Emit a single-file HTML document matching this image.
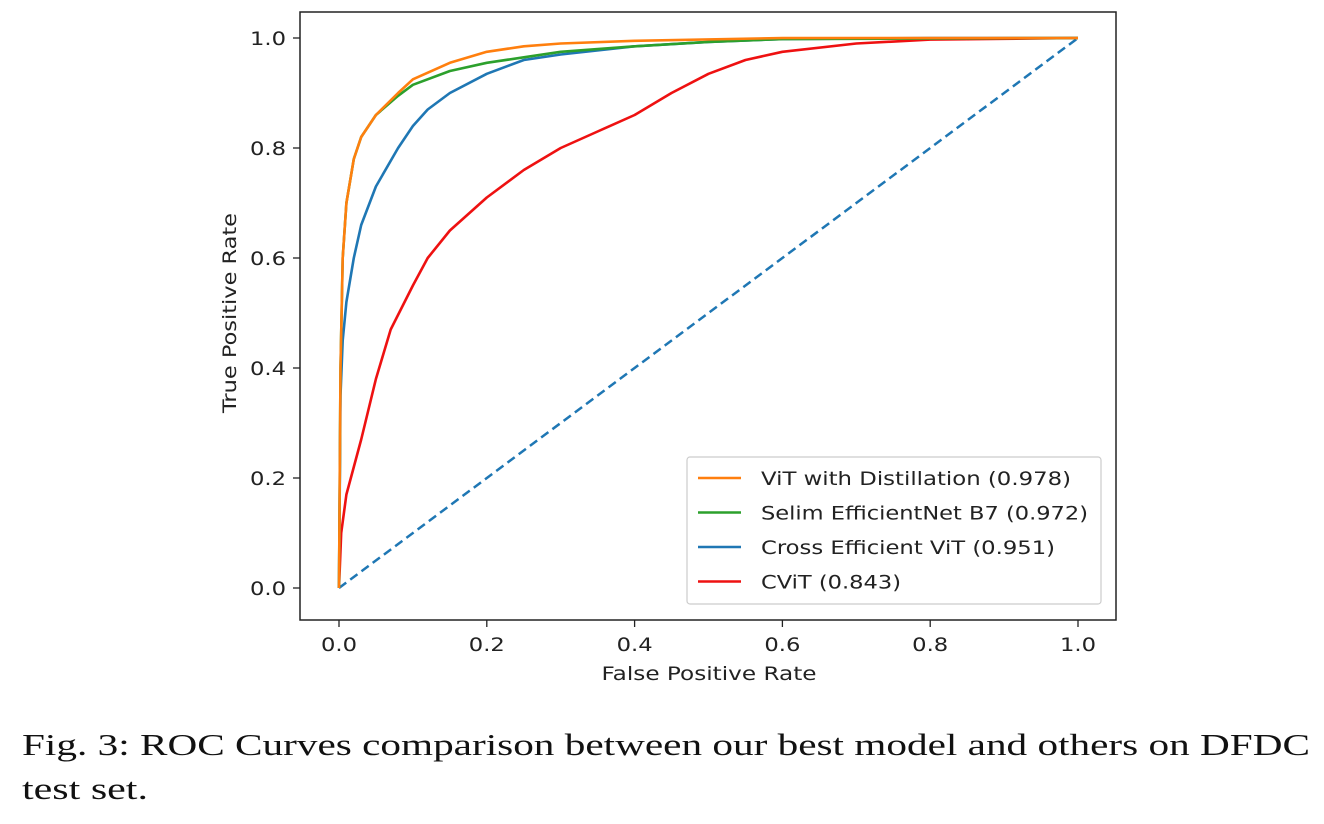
<!DOCTYPE html>
<html><head><meta charset="utf-8"><style>
body{margin:0;background:#fff;width:1324px;height:824px;overflow:hidden}
svg{position:absolute;left:0;top:0}
</style></head><body>
<svg id="chart" width="1324" height="700" font-family="DejaVu Sans, Liberation Sans, sans-serif"></svg>
<svg width="1324" height="824" style="top:0;pointer-events:none" font-family="Liberation Serif, serif">
<text x="22" y="755" font-size="31" fill="#111" textLength="1288" lengthAdjust="spacingAndGlyphs">Fig. 3: ROC Curves comparison between our best model and others on DFDC</text>
<text x="22" y="799" font-size="31" fill="#111" textLength="126" lengthAdjust="spacingAndGlyphs">test set.</text>
</svg>
<script>
const xTicks=[0,0.2,0.4,0.6,0.8,1.0];
const yTicks=[0,0.2,0.4,0.6,0.8,1.0];
const seriesNames=["ViT with Distillation (0.978)","Selim EfficientNet B7 (0.972)","Cross Efficient ViT (0.951)","CViT (0.843)"];
const seriesColors=["#ff7f0e","#2ca02c","#1f77b4","#ee1111"];
const vitFpr=[0,0.002,0.005,0.01,0.02,0.03,0.05,0.08,0.1,0.15,0.2,0.25,0.3,0.4,0.6,1];
const vitTpr=[0,0.4,0.6,0.7,0.78,0.82,0.86,0.9,0.925,0.955,0.975,0.985,0.99,0.995,1,1];
const selimFpr=[0,0.002,0.005,0.01,0.02,0.03,0.05,0.08,0.1,0.15,0.2,0.25,0.3,0.4,0.5,0.6,1];
const selimTpr=[0,0.4,0.6,0.7,0.78,0.82,0.86,0.895,0.915,0.94,0.955,0.965,0.975,0.985,0.993,0.998,1];
const crossFpr=[0,0.002,0.005,0.01,0.02,0.03,0.05,0.08,0.1,0.12,0.15,0.2,0.25,0.3,0.4,0.5,0.6,0.8,1];
const crossTpr=[0,0.35,0.45,0.52,0.6,0.66,0.73,0.8,0.84,0.87,0.9,0.935,0.96,0.97,0.985,0.993,0.998,1,1];
const cvitFpr=[0,0.003,0.01,0.02,0.03,0.05,0.07,0.1,0.12,0.15,0.2,0.25,0.3,0.35,0.4,0.45,0.5,0.55,0.6,0.7,0.8,1];
const cvitTpr=[0,0.1,0.17,0.22,0.27,0.38,0.47,0.55,0.6,0.65,0.71,0.76,0.8,0.83,0.86,0.9,0.935,0.96,0.975,0.99,0.997,1];
const legendWidths=[310,327,294,140];
const fprs=[vitFpr,selimFpr,crossFpr,cvitFpr], tprs=[vitTpr,selimTpr,crossTpr,cvitTpr];
const X=v=>339+v*739, Y=v=>588-v*550;
const svg=document.getElementById('chart'), NS='http://www.w3.org/2000/svg';
function mk(t,a,p){const e=document.createElementNS(NS,t);for(const k in a)e.setAttribute(k,a[k]);(p||svg).appendChild(e);return e;}
let e=mk('rect',{x:300,y:12,width:816,height:608,fill:'#fff',stroke:'#222','stroke-width':1.5});


xTicks.forEach(t=>{
 let l=mk('line',{x1:X(t),x2:X(t),y1:620,y2:627,stroke:'#222','stroke-width':1.3});
 
 
 let tx=mk('text',{x:X(t),y:651,'text-anchor':'middle','font-size':19,fill:'#222',textLength:36,lengthAdjust:'spacingAndGlyphs'});tx.textContent=t.toFixed(1);
 
 
});
yTicks.forEach(t=>{
 let l=mk('line',{x1:293,x2:300,y1:Y(t),y2:Y(t),stroke:'#222','stroke-width':1.3});
 
 
 let tx=mk('text',{x:286,y:Y(t)+7,'text-anchor':'end','font-size':19,fill:'#222',textLength:36,lengthAdjust:'spacingAndGlyphs'});tx.textContent=t.toFixed(1);
 
 
});
e=mk('text',{x:709,y:680,'text-anchor':'middle','font-size':19,fill:'#222',textLength:215,lengthAdjust:'spacingAndGlyphs'});e.textContent='False Positive Rate';


e=mk('text',{x:236,y:313,'text-anchor':'middle','font-size':19,fill:'#222',textLength:200,lengthAdjust:'spacingAndGlyphs',transform:'rotate(-90 236 313)'});e.textContent='True Positive Rate';


e=mk('line',{x1:X(0),y1:Y(0),x2:X(1),y2:Y(1),stroke:'#1f77b4','stroke-width':2.5,'stroke-dasharray':'9,5'});


for(let i=3;i>=0;i--){
 const d=fprs[i].map((f,j)=>(j?'L':'M')+X(f).toFixed(1)+','+Y(tprs[i][j]).toFixed(1)).join('');
 let p=mk('path',{d:d,fill:'none',stroke:seriesColors[i],'stroke-width':2.6,'stroke-linejoin':'round'});
 
 
}
let lg=mk('rect',{x:687,y:457,width:414,height:147,fill:'#fff',stroke:'#ccc','stroke-width':1.2,rx:3});


seriesNames.forEach((n,i)=>{
 const y=478+i*34.5;
 let l=mk('line',{x1:698,x2:741,y1:y,y2:y,stroke:seriesColors[i],'stroke-width':2.6});
 
 
 let t=mk('text',{x:761,y:y+7,'font-size':19,fill:'#222',textLength:legendWidths[i],lengthAdjust:'spacingAndGlyphs'});t.textContent=n;
 
 
});
</script>
</body></html>
